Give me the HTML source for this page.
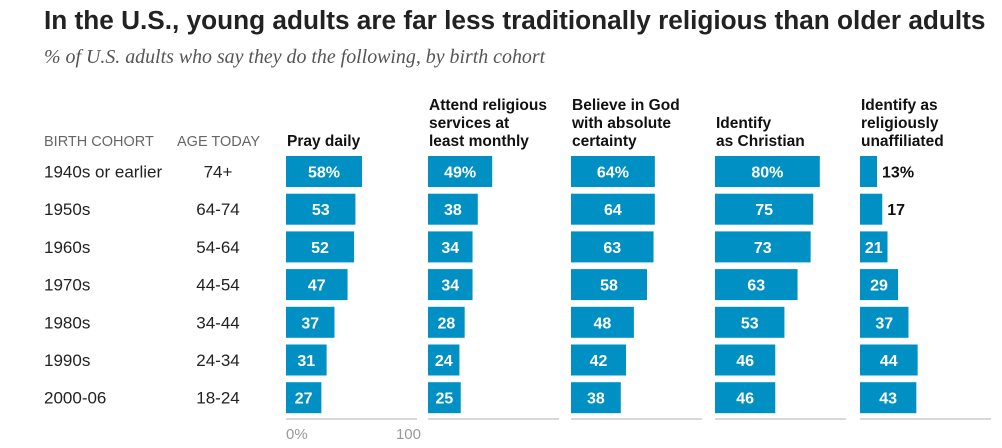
<!DOCTYPE html>
<html><head><meta charset="utf-8"><style>
body{margin:0;background:#fff;width:1002px;height:448px;overflow:hidden;font-family:"Liberation Sans",sans-serif}
#t{position:absolute;left:44px;top:5px;font-size:26.2px;font-weight:bold;color:#222;white-space:nowrap}
#s{position:absolute;left:44px;top:46px;font-family:"Liberation Serif",serif;font-style:italic;font-size:19.9px;color:#555;white-space:nowrap}
svg{position:absolute;left:0;top:0}
</style></head><body>
<div id="t">In the U.S., young adults are far less traditionally religious than older adults</div>
<div id="s">% of U.S. adults who say they do the following, by birth cohort</div>
<svg id="c" width="1002" height="448"></svg>
<script>
const cohorts=["1940s or earlier","1950s","1960s","1970s","1980s","1990s","2000-06"];
const ages=["74+","64-74","54-64","44-54","34-44","24-34","18-24"];
const headers=[["Pray daily"],["Attend religious","services at","least monthly"],["Believe in God","with absolute","certainty"],["Identify","as Christian"],["Identify as","religiously","unaffiliated"]];
const prayDaily=[58,53,52,47,37,31,27];
const attendMonthly=[49,38,34,34,28,24,25];
const believeGod=[64,64,63,58,48,42,38];
const christian=[80,75,73,63,53,46,46];
const unaffiliated=[13,17,21,29,37,44,43];
const series=[prayDaily,attendMonthly,believeGod,christian,unaffiliated];
const NS="http://www.w3.org/2000/svg",svg=document.getElementById('c');
const colX=[286,428,571,715,860],rowY0=156,rowH=37.7,barH=31,scale=1.31;
const xs=(c,v)=>colX[c]+v*scale;
function el(tag,attrs,txt){const e=document.createElementNS(NS,tag);for(const k in attrs)e.setAttribute(k,attrs[k]);if(txt!=null)e.textContent=txt;svg.appendChild(e);return e;}
let e=el('text',{x:44,y:146,'font-size':14.5,fill:'#666'},'BIRTH COHORT');

e=el('text',{x:177,y:146,'font-size':14.5,fill:'#666'},'AGE TODAY');

cohorts.forEach((c,i)=>{const y=rowY0+i*rowH+barH/2+6;
 let t=el('text',{x:44,y:y,'font-size':17,fill:'#222'},c);
 
 t=el('text',{x:218,y:y,'font-size':17,fill:'#222','text-anchor':'middle'},ages[i]);
 
});
headers.forEach((h,c)=>{const n=h.length;h.forEach((line,j)=>{
 const t=el('text',{x:colX[c]+1,y:146-(n-1-j)*18,'font-size':15.5,'font-weight':'bold',fill:'#111'},line);
 });
 const l=el('line',{x1:colX[c],x2:xs(c,100),y1:419,y2:419,stroke:'#ccc','stroke-width':1.5});
 
});
series.forEach((vals,c)=>vals.forEach((v,i)=>{
 const y=rowY0+i*rowH,w=xs(c,v)-colX[c];
 const r=el('rect',{x:colX[c],y:y,width:w,height:barH,fill:'#0090c4'});
 
 const lbl=i===0?v+'%':String(v);
 const inside=w>25;
 const t=el('text',{x:inside?colX[c]+w/2:colX[c]+w+5,y:y+barH/2+6,'font-size':16,'font-weight':'bold',fill:inside?'#fff':'#111','text-anchor':inside?'middle':'start'},lbl);
 
}));
e=el('text',{x:286,y:439,'font-size':15,fill:'#999'},'0%');

e=el('text',{x:xs(0,100)+4,y:439,'font-size':15,fill:'#999','text-anchor':'end'},'100');

</script>
</body></html>
